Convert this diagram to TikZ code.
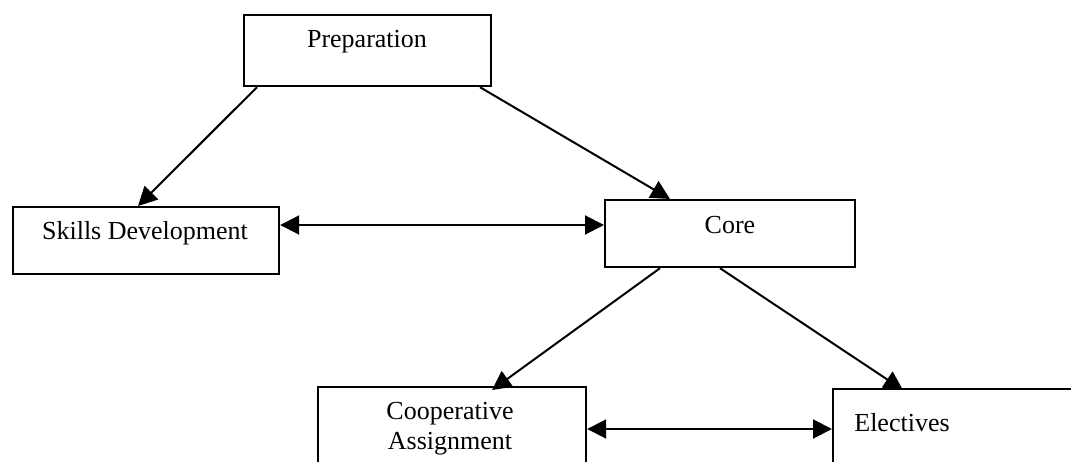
\documentclass[tikz,border=0pt]{standalone}
\usepackage{fontspec}
\setmainfont{Liberation Serif}
\usetikzlibrary{arrows.meta,calc}
\begin{document}
\begin{tikzpicture}[x=1pt,y=-1pt,
  box/.style={draw,line width=2.2pt,inner sep=0pt,anchor=north west},
  txt/.style={inner sep=0pt,font=\fontsize{26}{30}\selectfont,align=center},
  conn/.style={line width=2pt,-{Triangle[length=19pt,width=19pt]}},
  biconn/.style={line width=2pt,{Triangle[length=19pt,width=19pt]}-{Triangle[length=19pt,width=19pt]}}]
\useasboundingbox (0,0) rectangle (1071,462);
\clip (0,0) rectangle (1071,462);
% boxes
\node[box,minimum width=247pt,minimum height=71pt] (prep) at (243,14) {};
\node[box,minimum width=266pt,minimum height=67pt] (skills) at (12,206) {};
\node[box,minimum width=250pt,minimum height=67pt] (core) at (604,199) {};
\node[box,minimum width=268pt,minimum height=110pt] (coop) at (317,386) {};
\node[box,minimum width=270pt,minimum height=110pt] (elec) at (832,388) {};
% texts
\node[txt] (tprep) at (367,42) {Preparation};
\node[txt] (tskills) at (145,233) {Skills Development};
\node[txt] (tcore) at (730,225) {Core};
\node[txt] (tcoop) at (450,429) {Cooperative\\Assignment};
\node[txt] (telec) at (902,423) {Electives};
% connectors
\draw[conn] ($(prep.south west)+(14,0)$) -- ($(skills.north west)+(126,0)$);
\draw[conn] ($(prep.south west)+(237,0)$) -- ($(core.north west)+(66,0)$);
\draw[biconn] ($(skills.north east)+(0,19)$) -- ($(core.north west)+(0,26)$);
\draw[conn] ($(core.south west)+(56,0)$) -- ($(coop.north west)+(175,4)$);
\draw[conn] ($(core.south west)+(116,0)$) -- ($(elec.north west)+(71,2)$);
\draw[biconn] ($(coop.north east)+(0,43)$) -- ($(elec.north west)+(0,41)$);
\end{tikzpicture}
\end{document}
